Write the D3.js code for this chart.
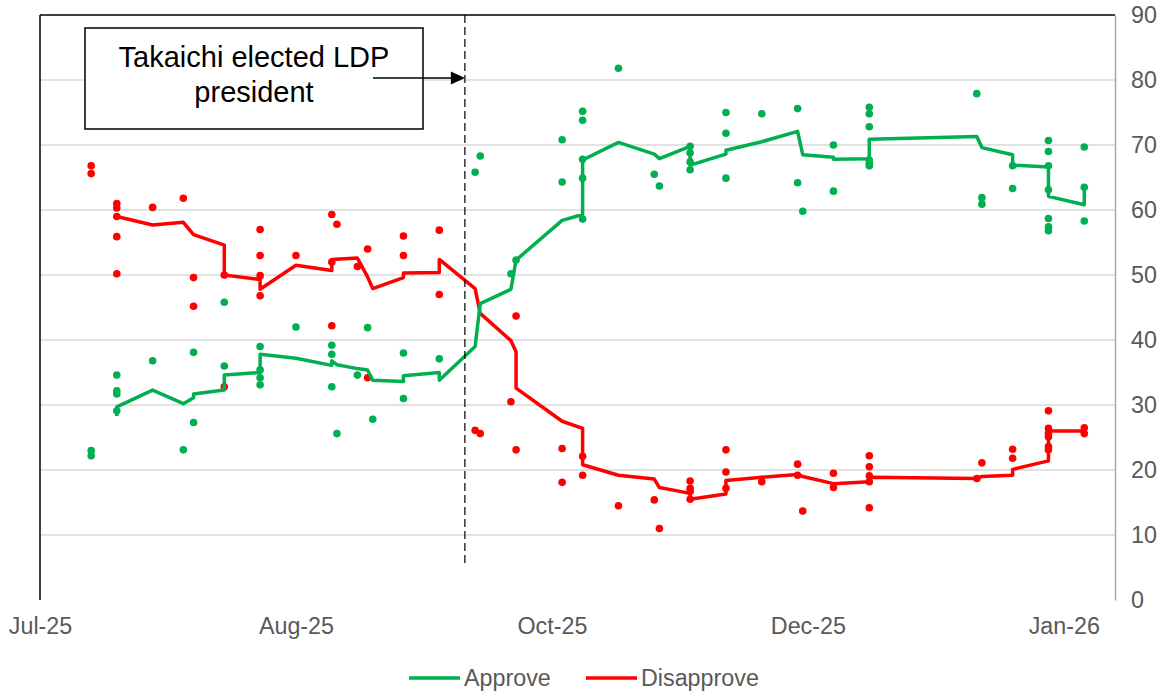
<!DOCTYPE html>
<html>
<head>
<meta charset="utf-8">
<script src="https://cdn.jsdelivr.net/npm/d3@7"></script>
<style>
  html, body { margin: 0; padding: 0; background: #ffffff; }
  svg { display: block; font-family: "Liberation Sans", Arial, sans-serif; }
</style>
</head>
<body>
<svg id="chart" width="1171" height="694"></svg>
<script>
// Cabinet approval polls: each poll date with its individual readings
const pollDates = [
  "2025-07-22","2025-07-27","2025-08-03","2025-08-09","2025-08-11","2025-08-17",
  "2025-08-24","2025-08-31","2025-09-07","2025-09-08","2025-09-12","2025-09-14",
  "2025-09-15","2025-09-21","2025-09-28","2025-10-05","2025-10-06","2025-10-12",
  "2025-10-13","2025-10-22","2025-10-26","2025-11-02","2025-11-09","2025-11-10",
  "2025-11-16","2025-11-23","2025-11-30","2025-12-07","2025-12-08","2025-12-14",
  "2025-12-21","2026-01-11","2026-01-12","2026-01-18","2026-01-25","2026-02-01"
];

const approveReadings = [
  [23.0, 22.2], [34.6, 32.2, 31.7, 29.1], [36.8], [23.1], [38.1, 27.3], [45.8, 36.0],
  [39.0, 35.4, 34.2, 33.1], [42.0], [39.2, 37.8, 32.8], [25.6], [34.6], [41.9],
  [27.8], [38.0, 31.0], [37.1], [65.8], [68.3], [50.2],
  [52.3], [70.8, 64.3], [75.2, 73.8, 67.8, 64.9, 58.6], [81.8], [65.5], [63.7],
  [69.8, 68.8, 67.4, 66.2], [75.0, 71.8, 64.9], [74.8], [75.6, 64.2], [59.8], [70.0, 62.9],
  [75.8, 74.8, 72.8, 67.7, 67.2, 66.8], [77.9], [61.9, 60.9], [66.8, 63.3],
  [70.7, 69.0, 66.8, 63.1, 58.7, 57.4, 56.8], [69.7, 63.5, 58.3]
];

const disapproveReadings = [
  [66.8, 65.6], [61.0, 60.3, 59.0, 55.9, 50.2], [60.4], [61.8], [49.6, 45.2], [50.0, 32.8],
  [57.0, 53.0, 49.9, 46.8], [53.0], [59.3, 52.0, 42.2], [57.8], [51.3], [54.0, 34.2],
  [], [56.0, 53.0], [56.9, 47.0], [26.1], [25.6], [30.5],
  [43.7, 23.1], [23.3, 18.1], [22.1, 19.2], [14.5], [15.4], [11.0],
  [18.3, 17.2, 16.7, 15.5], [23.1, 19.7, 17.2], [18.2], [20.9, 19.2], [13.7], [19.5, 17.3],
  [22.2, 20.5, 19.1, 18.2, 14.2], [18.7], [21.1], [23.2, 21.8],
  [29.1, 26.4, 25.6, 25.1, 23.6, 23.1], [26.5, 25.6]
];

// Rolling averages (a date may appear twice where the average steps)
const approveTrend = [
  ["2025-07-27",28.3],["2025-07-27",29.7],["2025-08-03",32.3],["2025-08-09",30.2],
  ["2025-08-11",31.1],["2025-08-11",31.7],["2025-08-17",32.3],["2025-08-17",34.6],
  ["2025-08-24",35.0],["2025-08-24",37.8],["2025-08-31",37.2],["2025-09-07",36.1],
  ["2025-09-07",36.8],["2025-09-08",36.2],["2025-09-12",35.6],["2025-09-14",35.4],
  ["2025-09-15",33.8],["2025-09-21",33.6],["2025-09-21",34.5],["2025-09-28",35.0],
  ["2025-09-28",33.8],["2025-10-05",39.0],["2025-10-06",45.6],["2025-10-12",47.8],
  ["2025-10-13",52.3],["2025-10-22",58.4],["2025-10-26",59.3],["2025-10-26",67.7],
  ["2025-11-02",70.4],["2025-11-09",68.6],["2025-11-10",67.9],["2025-11-16",69.8],
  ["2025-11-16",66.9],["2025-11-23",68.6],["2025-11-23",69.2],["2025-11-30",70.5],
  ["2025-12-07",72.1],["2025-12-08",68.5],["2025-12-14",68.1],["2025-12-14",67.8],
  ["2025-12-21",67.9],["2025-12-21",70.9],["2026-01-11",71.3],["2026-01-12",69.6],
  ["2026-01-18",68.5],["2026-01-18",66.9],["2026-01-25",66.6],["2026-01-25",62.1],
  ["2026-02-01",60.8],["2026-02-01",63.5]
];

const disapproveTrend = [
  ["2025-07-27",59.0],["2025-08-03",57.7],["2025-08-09",58.1],["2025-08-11",56.2],
  ["2025-08-17",54.6],["2025-08-17",50.0],["2025-08-24",49.3],["2025-08-24",47.8],
  ["2025-08-31",51.5],["2025-09-07",50.7],["2025-09-07",52.4],["2025-09-12",52.6],
  ["2025-09-14",49.7],["2025-09-15",47.9],["2025-09-21",49.6],["2025-09-21",50.3],
  ["2025-09-28",50.4],["2025-09-28",52.4],["2025-10-05",47.9],["2025-10-06",44.1],
  ["2025-10-12",39.9],["2025-10-13",38.2],["2025-10-13",32.6],["2025-10-22",27.5],
  ["2025-10-26",26.4],["2025-10-26",20.8],["2025-11-02",19.2],["2025-11-09",18.6],
  ["2025-11-10",17.3],["2025-11-16",16.4],["2025-11-16",15.5],["2025-11-23",16.3],
  ["2025-11-23",18.4],["2025-11-30",18.9],["2025-12-07",19.3],["2025-12-08",19.0],
  ["2025-12-14",17.9],["2025-12-21",18.2],["2025-12-21",18.9],["2026-01-11",18.7],
  ["2026-01-12",19.0],["2026-01-18",19.2],["2026-01-18",20.1],["2026-01-25",21.4],
  ["2026-01-25",26.0],["2026-02-01",26.0]
];

const xDomain = ["2025-07-12", "2026-02-07"];
const xTickDates = ["2025-07-12", "2025-08-31", "2025-10-20", "2025-12-09", "2026-01-28"];
const yTicks = [0, 10, 20, 30, 40, 50, 60, 70, 80, 90];
const eventDate = "2025-10-03";
const eventLabel = ["Takaichi elected LDP", "president"];
const seriesNames = ["Approve", "Disapprove"];

const GREEN = "#00b050", RED = "#ff0000", AXIS_TEXT = "#595959", GRID = "#d9d9d9";
const LABEL_SIZE = 23.3;

const parse = d3.timeParse("%Y-%m-%d");
const svg = d3.select("#chart");
const plot = { left: 40, right: 1115, top: 15, bottom: 600 };

const x = d3.scaleTime().domain(xDomain.map(parse)).range([plot.left, plot.right]);
const y = d3.scaleLinear().domain([0, 90]).range([plot.bottom, plot.top]);

// Horizontal gridlines
svg.append("g").selectAll("line")
  .data(yTicks.filter(t => t > 0 && t < 90))
  .join("line")
  .attr("x1", plot.left).attr("x2", plot.right)
  .attr("y1", d => y(d)).attr("y2", d => y(d))
  .attr("stroke", GRID).attr("stroke-width", 1.5);

// Right value axis
const yAxis = d3.axisRight(y).tickValues(yTicks).tickSize(0).tickPadding(16);
const gy = svg.append("g").attr("transform", `translate(${plot.right},0)`).call(yAxis);
gy.select(".domain").attr("stroke", "#a6a6a6").attr("stroke-width", 1.5);
gy.selectAll("text").attr("fill", AXIS_TEXT).attr("font-size", LABEL_SIZE)
  .attr("font-family", "'Liberation Sans', Arial, sans-serif");

// Date axis labels
const xAxis = d3.axisBottom(x).tickValues(xTickDates.map(parse))
  .tickFormat(d3.timeFormat("%b-%y")).tickSize(0).tickPadding(17);
const gx = svg.append("g").attr("transform", `translate(0,${plot.bottom})`).call(xAxis);
gx.select(".domain").remove();
gx.selectAll("text").attr("fill", AXIS_TEXT).attr("font-size", LABEL_SIZE)
  .attr("font-family", "'Liberation Sans', Arial, sans-serif");

// Plot frame: left and top edges
svg.append("line").attr("x1", plot.left).attr("x2", plot.left)
  .attr("y1", plot.top).attr("y2", plot.bottom).attr("stroke", "#000").attr("stroke-width", 1.5);
svg.append("line").attr("x1", plot.left).attr("x2", plot.right)
  .attr("y1", plot.top).attr("y2", plot.top).attr("stroke", "#000").attr("stroke-width", 1.5);

// Individual poll readings
function flatten(readings) {
  const out = [];
  readings.forEach((vals, i) => vals.forEach(v => out.push({ date: parse(pollDates[i]), value: v })));
  return out;
}
svg.append("g").selectAll("circle").data(flatten(approveReadings)).join("circle")
  .attr("cx", d => x(d.date)).attr("cy", d => y(d.value)).attr("r", 3.8).attr("fill", GREEN);
svg.append("g").selectAll("circle").data(flatten(disapproveReadings)).join("circle")
  .attr("cx", d => x(d.date)).attr("cy", d => y(d.value)).attr("r", 3.8).attr("fill", RED);

// Trend lines
const line = d3.line().x(d => x(parse(d[0]))).y(d => y(d[1]));
svg.append("path").attr("d", line(disapproveTrend)).attr("fill", "none")
  .attr("stroke", RED).attr("stroke-width", 3.5).attr("stroke-linejoin", "round");
svg.append("path").attr("d", line(approveTrend)).attr("fill", "none")
  .attr("stroke", GREEN).attr("stroke-width", 3.5).attr("stroke-linejoin", "round");

// Event marker
const ex = x(parse(eventDate));
svg.append("line").attr("x1", ex).attr("x2", ex).attr("y1", plot.top).attr("y2", 565)
  .attr("stroke", "#000").attr("stroke-width", 1.2).attr("stroke-dasharray", "8,4");

svg.append("rect").attr("x", 85).attr("y", 28).attr("width", 338).attr("height", 101)
  .attr("fill", "#fff").attr("stroke", "#000").attr("stroke-width", 1.5);
[[eventLabel[0], 67], [eventLabel[1], 102]].forEach(([t, by]) => {
  svg.append("text").attr("x", 254).attr("y", by)
    .attr("text-anchor", "middle").attr("font-size", 29).attr("fill", "#000").text(t);
});

// Arrow from the label to the marker
svg.append("line").attr("x1", 373).attr("x2", ex - 13).attr("y1", 78).attr("y2", 78)
  .attr("stroke", "#000").attr("stroke-width", 1.3);
svg.append("path").attr("d", `M${ex},78 L${ex - 14},71.5 L${ex - 14},84.5 Z`).attr("fill", "#000");

// Legend
const legend = svg.append("g").attr("font-size", LABEL_SIZE).attr("fill", AXIS_TEXT);
[[seriesNames[0], GREEN, 409], [seriesNames[1], RED, 586]].forEach(([name, color, lx]) => {
  legend.append("line").attr("x1", lx).attr("x2", lx + 51).attr("y1", 678).attr("y2", 678)
    .attr("stroke", color).attr("stroke-width", 3.5);
  legend.append("text").attr("x", lx + 55).attr("y", 686).attr("fill", AXIS_TEXT).text(name);
});
</script>
</body>
</html>
